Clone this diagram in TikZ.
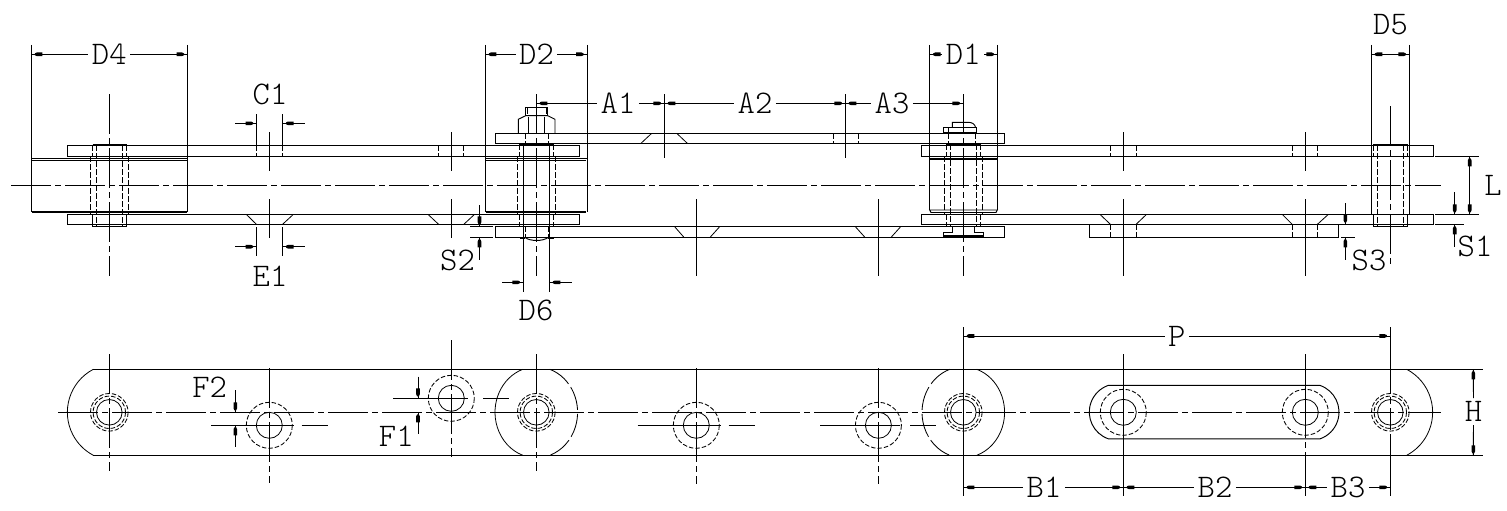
\documentclass[tikz,border=0pt]{standalone}
\usepackage{fontspec}
\setmonofont{Latin Modern Mono Light}
\newcommand\hb[3]{\fill (#1+#3*3.5,#2-.9)--(#1+#3*5.5,#2-1.8)--(#1+#3*11,#2-1.8)--(#1+#3*11,#2+1.8)--(#1+#3*5.5,#2+1.8)--(#1+#3*3.5,#2+.9)--cycle;}
\newcommand\vb[3]{\fill (#1-.9,#2+#3*2)--(#1-1.8,#2+#3*4)--(#1-1.8,#2+#3*10)--(#1+1.8,#2+#3*10)--(#1+1.8,#2+#3*4)--(#1+.9,#2+#3*2)--cycle;}
\tikzset{
 ln/.style={line width=.95pt},
 thk/.style={line width=1.9pt},
 thn/.style={line width=.8pt},
 dsh/.style={line width=.95pt,dash pattern=on 5.5pt off 2.5pt},
 dshc/.style={line width=.85pt,dash pattern=on 4.5pt off 2pt},
 lngd/.style={line width=.85pt,dash pattern=on 24pt off 4pt},
 cen/.style={line width=.95pt,dash pattern=on 40pt off 4pt on 6pt off 4pt},
 lbl/.style={font=\ttfamily\fontsize{33}{33}\selectfont,inner sep=0pt,outer sep=3.5pt,text height=20pt,text depth=0pt,anchor=center},
}
\begin{document}
\begin{tikzpicture}[x=1pt,y=-1pt,ln]
\useasboundingbox (0,0) rectangle (1507,511);
\fill[white] (0,0) rectangle (1507,511);
% ---------- top view: centre line
\draw[cen] (11,185.3) -- (1441,185.3);
% plates
\draw (67.5,145.3) rectangle (579,156.3);
\draw (67.5,214.4) rectangle (579,224.4);
\draw (495.3,133.3) rectangle (1004.5,143.3);
\draw (495.3,226.3) rectangle (1004.5,237.4);
\draw (921.3,145.3) rectangle (1433,156.3);
\draw (921.3,214.4) rectangle (1433,224.4);
\draw (1089.3,224.4) -- (1089.3,237.4) -- (1338.3,237.4) -- (1338.3,224.4);
% roller 1
\draw (31.3,211.5) -- (31.3,158.5) -- (187.5,158.5) -- (187.5,211.5);
\draw (32,160.3) -- (187,160.3);
\draw[thk] (32,211.6) -- (187,211.6);
\draw[dsh] (90.5,156.3) -- (90.5,214.4) (128.5,156.3) -- (128.5,214.4);
\draw[dsh] (92.5,145) -- (92.5,156.3) (126.5,145) -- (126.5,156.3);
\draw (92.5,214.4) -- (92.5,226.3) -- (126.5,226.3) -- (126.5,214.4);
\draw[dsh] (96.5,145) -- (96.5,226) (122.5,145) -- (122.5,226);
\draw[thk] (92.5,144.5) -- (126.5,144.5);
\draw[cen] (109.3,94) -- (109.3,276);
% roller 2
\draw (485.3,211.5) -- (485.3,158.5) -- (587,158.5) -- (587,211.5);
\draw (486,160.3) -- (586.3,160.3);
\draw[thk] (486,211.6) -- (586.3,211.6);
\draw[dsh] (517.7,156.3) -- (517.7,214.4) (555.3,156.3) -- (555.3,214.4);
\draw[dsh] (519.3,144) -- (519.3,156.3) (553.7,144) -- (553.7,156.3) (519.3,214.4) -- (519.3,226.3) (553.7,214.4) -- (553.7,226.3);
\draw[thk] (519.3,143.9) -- (553.7,143.9);
\draw[dsh] (525,133.3) -- (525,143.3) (548.3,133.3) -- (548.3,143.3);
\draw (518.3,133.3) -- (518.3,119.3) -- (525.7,115.7) -- (547.7,115.7) -- (555,119.3) -- (555,133.3);
\draw (528.7,116.5) -- (528.7,133.3) (544,116.5) -- (544,133.3);
\draw (525.7,115.7) -- (525.7,107.7) -- (547.7,107.7) -- (547.7,115.7);
\draw (527,108) -- (527,114) (546.7,108) -- (546.7,114);
\draw[dsh] (525,226.3) -- (525,237.3) (548.3,226.3) -- (548.3,237.3);
\draw (525,237.4) .. controls (530,241.5) and (543,241.5) .. (548.3,237.4);
\draw[thk] (520,238.3) -- (525,238.3) (548.3,238.3) -- (553.7,238.3);
\draw (523.3,144) -- (523.3,292) (549.3,144) -- (549.3,292);
\draw[cen] (536.3,94) -- (536.3,276);
% roller 3
\draw (929.7,210) -- (929.7,158.5) (997.3,158.5) -- (997.3,210);
\draw[thk] (930,158.8) -- (997,158.8);
\draw (929.7,210) -- (931,212.5) -- (996,212.5) -- (997.3,210) -- cycle;
\draw[dsh] (944.3,156.3) -- (944.3,214.4) (982.3,156.3) -- (982.3,214.4);
\draw[dsh] (946.3,144) -- (946.3,156.3) (980.7,144) -- (980.7,156.3) (946.3,214.4) -- (946.3,226.3) (980.7,214.4) -- (980.7,226.3);
\draw[dsh] (950.7,144) -- (950.7,226.3) (976.3,144) -- (976.3,226.3);
\draw[thk] (946.3,143.9) -- (980.7,143.9);
\draw[dsh] (948.3,133.3) -- (948.3,143.3) (975,133.3) -- (975,143.3);
\draw (943.3,127.3) rectangle (976.7,132.9);
\draw (948.7,127.3) -- (948.7,132.9);
\draw (952.3,127.3) -- (952.3,122.3) -- (968,122.3) .. controls (972,122.3) and (975,124) .. (975.5,127.3);
\draw (952.3,226.3) -- (952.3,232.3) -- (943.3,232.3) -- (943.3,236.7) -- (983.7,236.7) -- (983.7,232.3) -- (974.3,232.3) -- (974.3,226.3);
\draw[thk] (943.3,236.4) -- (983.7,236.4);
\draw[cen] (963.3,94) -- (963.3,276);
% pin 4
\draw (1371.3,156.3) -- (1371.3,214.4) (1409.3,156.3) -- (1409.3,214.4);
\draw[dsh] (1373.3,145) -- (1373.3,156.3) (1407.7,145) -- (1407.7,156.3);
\draw (1373.3,214.4) -- (1373.3,226.3) -- (1407.7,226.3) -- (1407.7,214.4);
\draw[dsh] (1377.3,145) -- (1377.3,226) (1403.3,145) -- (1403.3,226);
\draw[thk] (1373.3,144.5) -- (1407.7,144.5);
\draw[cen] (1390.3,106) -- (1390.3,265);
% intermediate hole marks
\foreach \c/\a/\b in {269.3/256.5/282.5,451.3/438.7/463.7,1123.3/1110.5/1136,1305.3/1292.3/1317.3}{
  \draw (\c,132) -- (\c,171);
  \draw[dsh] (\a,145.3) -- (\a,156.3) (\b,145.3) -- (\b,156.3);
  \draw (\c,199) -- (\c,238);
}
\draw (1123.3,238) -- (1123.3,276) (1305.3,238) -- (1305.3,276);
\foreach \c/\a/\b/\oa/\ob in {269.3/256.5/282.5/246.3/293.3,451.3/438.7/463.7/428/474.5,1123.3/1110.5/1136/1100/1146.5,1305.3/1292.3/1317.3/1282.3/1328.3}{
  \draw[thn] (\oa,214.4) -- (\a,224.4) (\ob,214.4) -- (\b,224.4);
}
\draw[dsh] (1110.5,224.4) -- (1110.5,237.4) (1136,224.4) -- (1136,237.4) (1292.3,224.4) -- (1292.3,237.4) (1317.3,224.4) -- (1317.3,237.4);
% outer plate 2 marks
\draw (664.3,94) -- (664.3,158) (845.3,94) -- (845.3,158);
\draw[thn] (641,143.3) -- (651.7,133.3) (687.3,143.3) -- (676.7,133.3);
\draw[dsh] (833.3,133.3) -- (833.3,143.3) (858.3,133.3) -- (858.3,143.3);
\draw (696.3,199) -- (696.3,276) (878.4,199) -- (878.4,276);
\draw[thn] (674.3,226.3) -- (684,237.4) (720,226.3) -- (710,237.4);
\draw[thn] (855,226.3) -- (865,237.4) (901,226.3) -- (891,237.4);
% ---------- dimensions, top
\node[lbl] (d4) at (109.3,54.3) {D4};
\draw (31.3,45) -- (31.3,158.5) (187.5,45) -- (187.5,158.5);
\draw (31.3,54.3) -- (d4.west) (d4.east) -- (187.5,54.3);
\hb{31.3}{54.3}{1}\hb{187.5}{54.3}{-1}
\node[lbl] (d2) at (536.5,54.3) {D2};
\draw (485.3,45) -- (485.3,158.5) (587,45) -- (587,158.5);
\draw (485.3,54.3) -- (d2.west) (d2.east) -- (587,54.3);
\hb{485.3}{54.3}{1}\hb{587}{54.3}{-1}
\node[lbl] (d1) at (963.3,54.3) {D1};
\draw (929.7,45) -- (929.7,158.5) (997.3,45) -- (997.3,158.5);
\draw (929.7,54.3) -- (d1.west) (d1.east) -- (997.3,54.3);
\hb{929.7}{54.3}{1}\hb{997.3}{54.3}{-1}
\node[lbl] (d5) at (1390.5,24.7) {D5};
\draw (1371.3,45) -- (1371.3,156.3) (1409.3,45) -- (1409.3,156.3);
\draw (1371.3,54.3) -- (1409.3,54.3);
\hb{1371.3}{54.3}{1}\hb{1409.3}{54.3}{-1}
% C1, E1
\node[lbl] (c1) at (270,94) {C1};
\draw (256.5,114) -- (256.5,145.3) (282.5,114) -- (282.5,145.3);
\draw (235,123.3) -- (256.5,123.3) (282.5,123.3) -- (305,123.3);
\hb{256.5}{123.3}{-1}\hb{282.5}{123.3}{1}
\node[lbl] (e1) at (270,276) {E1};
\draw (256.5,227) -- (256.5,256) (282.5,227) -- (282.5,256);
\draw (235,246.7) -- (256.5,246.7) (282.5,246.7) -- (305,246.7);
\hb{256.5}{246.7}{-1}\hb{282.5}{246.7}{1}
% S2
\node[lbl] (s2) at (457.5,260) {S2};
\draw (470,226.3) -- (493,226.3) (470,237.4) -- (493,237.4);
\draw (479.5,205) -- (479.5,226.3) (479.5,237.4) -- (479.5,260);
\vb{479.5}{226.3}{-1}\vb{479.5}{237.4}{1}
% D6
\node[lbl] (d6) at (536,310) {D6};
\draw (502.3,282.3) -- (523.3,282.3) (549.3,282.3) -- (571.7,282.3);
\hb{523.3}{282.3}{-1}\hb{549.3}{282.3}{1}
% A1 A2 A3
\node[lbl] (a1) at (618,103.3) {A1};
\node[lbl] (a2) at (755,103.3) {A2};
\node[lbl] (a3) at (892,103.3) {A3};
\draw (536.3,103.3) -- (a1.west) (a1.east) -- (a2.west) (a2.east) -- (a3.west) (a3.east) -- (963.3,103.3);
\hb{536.3}{103.3}{1}\hb{664.3}{103.3}{-1}\hb{664.3}{103.3}{1}
\hb{845.3}{103.3}{-1}\hb{845.3}{103.3}{1}\hb{963.3}{103.3}{-1}
% L S1 S3
\node[lbl] (l) at (1493,185) {L};
\draw (1435,156.3) -- (1479,156.3) (1435,214.4) -- (1479,214.4) (1435,224.4) -- (1464,224.4);
\draw (1469.7,156.3) -- (1469.7,214.4);
\vb{1469.7}{156.3}{1}\vb{1469.7}{214.4}{-1}
\node[lbl] (s1) at (1475,246) {S1};
\draw (1454.7,192) -- (1454.7,214.4) (1454.7,224.4) -- (1454.7,246.7);
\vb{1454.7}{214.4}{-1}\vb{1454.7}{224.4}{1}
\node[lbl] (s3) at (1369,260) {S3};
\draw (1341,237.4) -- (1355,237.4);
\draw (1345.3,203) -- (1345.3,224.4) (1345.3,237.4) -- (1345.3,259.7);
\vb{1345.3}{224.4}{-1}\vb{1345.3}{237.4}{1}
% ---------- bottom view
\draw (93.3,369.3) -- (1482.7,369.3) (93.3,455.3) -- (1482.7,455.3);
\draw[thn] (93.3,369.3) arc[start angle=242.2,end angle=117.8,radius=48.6];
\draw[thn] (1406.7,369.3) arc[start angle=-62.2,end angle=62.2,radius=48.6];
\draw[cen] (58.3,412.3) -- (1440.7,412.3);
% slot attachment
\draw (1108.3,385.4) -- (1320,385.4) arc[start angle=-70.8,end angle=70.8,radius=28.3] -- (1108.3,438.8) arc[start angle=109.2,end angle=250.8,radius=28.3];
% rollers
\draw[thn] (522.8,369.3) arc[start angle=250.9,end angle=109.1,x radius=41.3,y radius=45.5];
\draw[lngd] (549.8,369.3) arc[start angle=-70.9,end angle=70.9,x radius=41.3,y radius=45.5];
\draw[thn] (976.8,369.3) arc[start angle=-70.9,end angle=70.9,x radius=41.3,y radius=45.5];
\draw[lngd] (949.8,369.3) arc[start angle=250.9,end angle=109.1,x radius=41.3,y radius=45.5];
% pins
\foreach \c in {109.3,536.3,963.3,1390.3}{
  \draw[thn] (\c,412.3) circle[radius=12.8];
  \draw[dshc] (\c,412.3) circle[radius=16.2];
  \draw[dshc] (\c,412.3) circle[radius=18.8];
}
\foreach \c/\y in {269.3/425.3,451.3/398.3,696.3/425.3,878.4/425.3,1123.3/412.3,1305.3/412.3}{
  \draw[thn] (\c,\y) circle[radius=13];
  \draw[dshc] (\c,\y) circle[radius=23];
}
% centre verticals
\draw[cen] (109.3,354) -- (109.3,470.7);
\draw[cen] (269.3,368.3) -- (269.3,483.3);
\draw[cen] (451.3,340) -- (451.3,456.7);
\draw[cen] (536.3,354) -- (536.3,470.7);
\draw[cen] (696.3,368.3) -- (696.3,483.5);
\draw[cen] (878.4,368.3) -- (878.4,483.5);
\draw (963.3,327.3) -- (963.3,496);
\draw (1123.3,354) -- (1123.3,496);
\draw[dash pattern=on 84pt off 4pt on 6pt off 4pt on 200pt] (1305.3,354) -- (1305.3,496);
\draw (1390.3,327.3) -- (1390.3,393) (1390.3,397) -- (1390.3,404) (1390.3,408) -- (1390.3,430) (1390.3,434) -- (1390.3,496);
% offset centre lines
\draw (211,425.3) -- (294,425.3) (301.7,425.3) -- (328.3,425.3);
\draw (393.3,398.3) -- (468,398.3) (483.3,398.3) -- (509,398.3);
\draw (637.7,425.3) -- (721,425.3) (728.6,425.3) -- (754.8,425.3);
\draw (820.2,425.3) -- (900,425.3) (910,425.3) -- (936.3,425.3);
% F1 F2
\node[lbl] (f2) at (209.7,387) {F2};
\draw (235.3,390) -- (235.3,412.3) (235.3,425.3) -- (235.3,447.3);
\vb{235.3}{412.3}{-1}\vb{235.3}{425.3}{1}
\node[lbl] (f1) at (396.3,436) {F1};
\draw (418,376.7) -- (418,398.3) (418,412.3) -- (418,434.3);
\vb{418}{398.3}{-1}\vb{418}{412.3}{1}
% P B1 B2 B3 H
\node[lbl] (p) at (1176.7,336) {P};
\draw (963.3,336) -- (p.west) (p.east) -- (1390.3,336);
\hb{963.3}{336}{1}\hb{1390.3}{336}{-1}
\node[lbl] (b1) at (1044,487.3) {B1};
\node[lbl] (b2) at (1215,487.3) {B2};
\node[lbl] (b3) at (1348,487.3) {B3};
\draw (963.3,487.3) -- (b1.west) (b1.east) -- (b2.west) (b2.east) -- (b3.west) (b3.east) -- (1390.3,487.3);
\hb{963.3}{487.3}{1}\hb{1123.3}{487.3}{-1}\hb{1123.3}{487.3}{1}
\hb{1305.3}{487.3}{-1}\hb{1305.3}{487.3}{1}\hb{1390.3}{487.3}{-1}
\node[lbl] (h) at (1473.5,411.7) {H};
\draw (1473.3,369.3) -- (h.north) (h.south) -- (1473.3,455.3);
\vb{1473.3}{369.3}{1}\vb{1473.3}{455.3}{-1}
\end{tikzpicture}
\end{document}
